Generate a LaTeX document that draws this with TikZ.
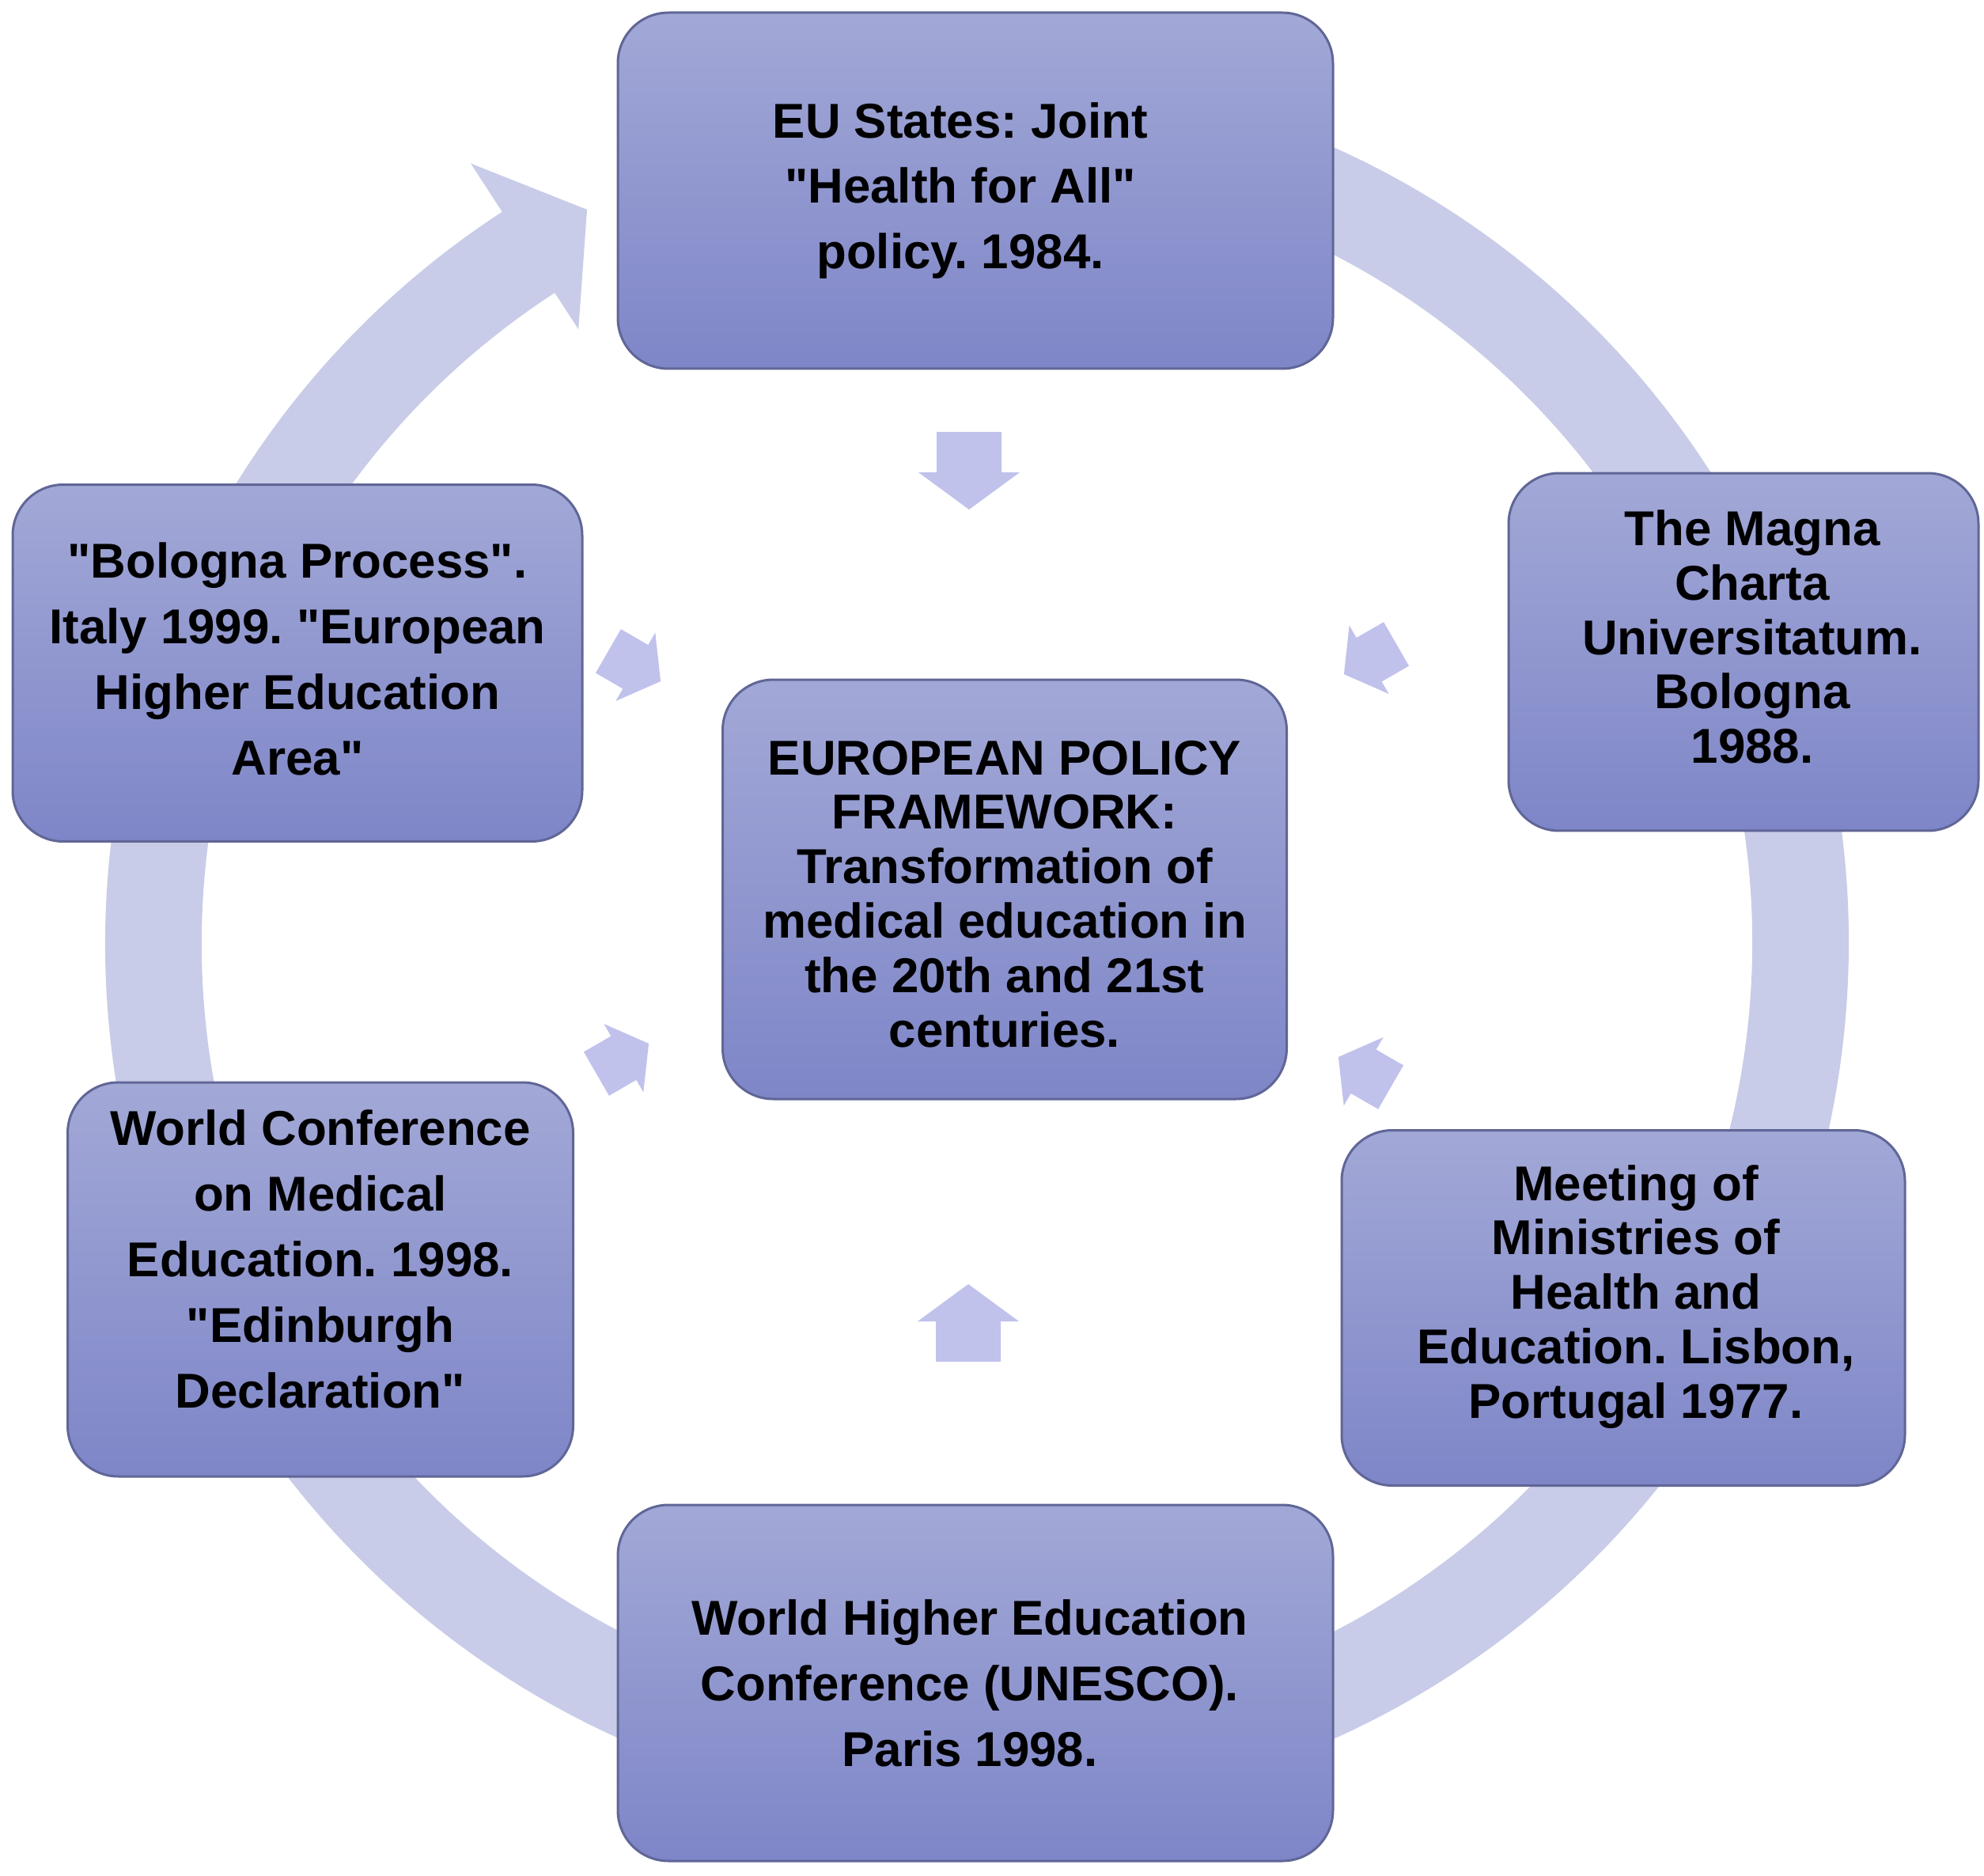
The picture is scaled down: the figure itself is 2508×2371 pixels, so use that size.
\documentclass[tikz,border=0pt]{standalone}
\usepackage{fontspec}
\newfontfamily\libsans{Liberation Sans}
\definecolor{ringc}{RGB}{200,204,232}
\definecolor{arrc}{RGB}{192,194,236}
\definecolor{boxtop}{RGB}{162,168,214}
\definecolor{boxbot}{RGB}{126,134,200}
\definecolor{boxline}{RGB}{96,102,150}
\tikzset{
  evbox/.style={rounded corners=6.4mm, draw=boxline, line width=0.3mm,
    top color=boxtop, bottom color=boxbot, inner sep=0pt},
  evtext/.style={align=center, inner sep=0pt,
    font=\libsans\frenchspacing\bfseries\fontsize{17.6}{23.6}\selectfont},
  tight/.style={font=\libsans\frenchspacing\bfseries\fontsize{17.6}{19.6}\selectfont},
  smallarrow/.pic={\fill[arrc] (-49,-41) -- (2,-41) -- (2,-64) -- (49,0) -- (2,64) -- (2,41) -- (-49,41) -- cycle;}
}
\begin{document}
\begin{tikzpicture}[x=0.1mm,y=0.1mm]
\useasboundingbox (0,0) rectangle (2508,-2371);
% ring arrow
\begin{scope}[shift={(1235,-1192)}]
\fill[ringc] (85:1102) arc[start angle=85, end angle=-237, radius=1102]
  -- (123:1175) -- (118:1050) -- (123:925) -- (123:980)
  arc[start angle=-237, end angle=85, radius=980] -- cycle;
\end{scope}
% small arrows
\pic[rotate=-90] at (1225,-595) {smallarrow};
\pic[rotate=210, scale=0.78] at (1732,-833) {smallarrow};
\pic[rotate=150, scale=0.78] at (1725,-1355) {smallarrow};
\pic[rotate=90] at (1224,-1672) {smallarrow};
\pic[rotate=30, scale=0.78] at (787,-1338) {smallarrow};
\pic[rotate=-30, scale=0.78] at (802,-842) {smallarrow};
% boxes
\node[evbox, minimum width=90.4mm, minimum height=45mm] (top) at (1233,-241) {};
\node[evbox, minimum width=59.4mm, minimum height=45.2mm] (rt) at (2204,-824) {};
\node[evbox, minimum width=71.2mm, minimum height=44.9mm] (rb) at (2052,-1653) {};
\node[evbox, minimum width=90.4mm, minimum height=45mm] (bot) at (1233,-2127) {};
\node[evbox, minimum width=63.9mm, minimum height=49.8mm] (lb) at (405,-1617) {};
\node[evbox, minimum width=72mm, minimum height=45.1mm] (lt) at (376,-838) {};
\node[evbox, minimum width=71.3mm, minimum height=53mm] (ctr) at (1270,-1124) {};
% texts
\node[evtext] (topT) at ([xshift=-1.9mm]top.center)
  {EU States: Joint\\"Health for All"\\policy. 1984.};
\node[evtext, tight] (rtT) at ([xshift=1.1mm, yshift=1.9mm]rt.center)
  {The Magna\\Charta\\Universitatum.\\Bologna\\1988.};
\node[evtext, tight] (rbT) at ([xshift=1.6mm, yshift=1.4mm]rb.center)
  {Meeting of\\Ministries of\\Health and\\Education. Lisbon,\\Portugal 1977.};
\node[evtext] (botT) at ([xshift=-0.7mm]bot.center)
  {World Higher Education\\Conference (UNESCO).\\Paris 1998.};
\node[evtext] (lbT) at ([yshift=2.6mm]lb.center)
  {World Conference\\on Medical\\Education. 1998.\\"Edinburgh\\Declaration"};
\node[evtext] (ltT) at ([yshift=0.5mm]lt.center)
  {"Bologna Process".\\Italy 1999. "European\\Higher Education\\Area"};
\node[evtext, tight] (ctrT) at ([yshift=-0.6mm]ctr.center)
  {EUROPEAN POLICY\\FRAMEWORK:\\Transformation of\\medical education in\\the 20th and 21st\\centuries.};
\end{tikzpicture}
\end{document}
